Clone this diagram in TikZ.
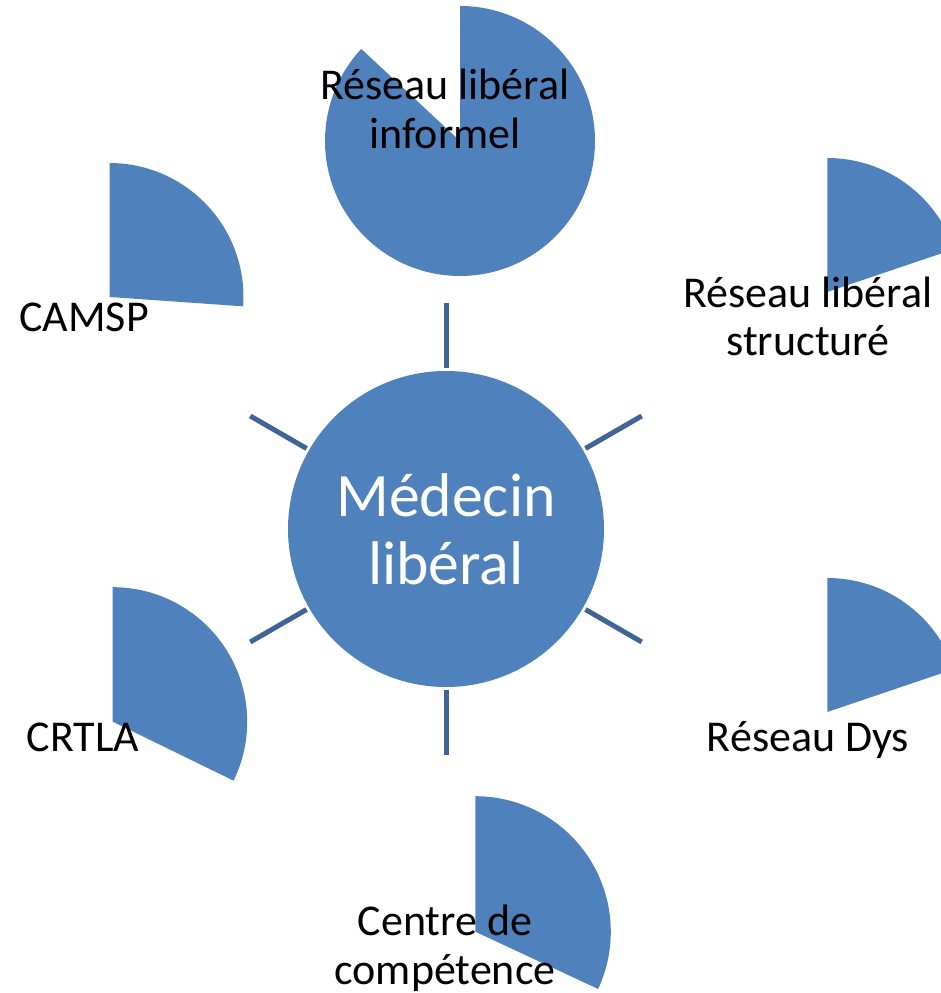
\documentclass[tikz,border=0pt]{standalone}
\usepackage{fontspec}
\setmainfont{Carlito}
\usetikzlibrary{positioning}
\definecolor{pieblue}{RGB}{79,129,189}
\definecolor{spokeblue}{RGB}{62,101,150}

\begin{document}
\begin{tikzpicture}
[every node/.style={align=center,inner sep=0pt},x=1pt,y=1pt,
 label/.style={font=\fontsize{44}{48.5}\selectfont,anchor=base},
 pie/.style={fill=pieblue},
 spoke/.style={draw=spokeblue,line width=5pt}]
\clip (0,0) rectangle (941,993);
%the pies
\fill[pie] (460,852) -- ++(90:135) arc[start angle=90,end angle=-223,radius=135] -- cycle;
\fill[pie] (109.5,696) -- ++(90:134) arc[start angle=90,end angle=-4,radius=134] -- cycle;
\fill[pie] (827.3,701) -- ++(90:134) arc[start angle=90,end angle=18.7,radius=134] -- cycle;
\fill[pie] (827.3,281) -- ++(90:134) arc[start angle=90,end angle=18.7,radius=134] -- cycle;
\fill[pie] (112.7,271.3) -- ++(90:134.5) arc[start angle=90,end angle=-26,radius=134.5] -- cycle;
\fill[pie] (475.3,61.3) -- ++(90:135.5) arc[start angle=90,end angle=-25,radius=135.5] -- cycle;
%centre
\node (Medecin) at (446,464) [circle,fill=pieblue,minimum size=316pt,text=white,
  font=\fontsize{61.7}{67.7}\selectfont] {Médecin\\libéral};
\foreach \a in {30,90,...,330}
  \draw[spoke] ([shift={(\a:161)}]Medecin.center) -- ([shift={(\a:226)}]Medecin.center);
%labels (base = last line)
\node (Informel) at (445,844.7) [label] {Réseau libéral\\informel};
\node (Structure) at (808,637) [label] {Réseau libéral\\structuré};
\node (Dys) at (808,241.3) [label] {Réseau Dys};
\node (Competence) at (445,9) [label] {Centre de\\compétence};
\node (CRTLA) at (83,241.3) [label] {CRTLA};
\node (CAMSP) at (84,661) [label] {CAMSP};
\end{tikzpicture}
\end{document}
